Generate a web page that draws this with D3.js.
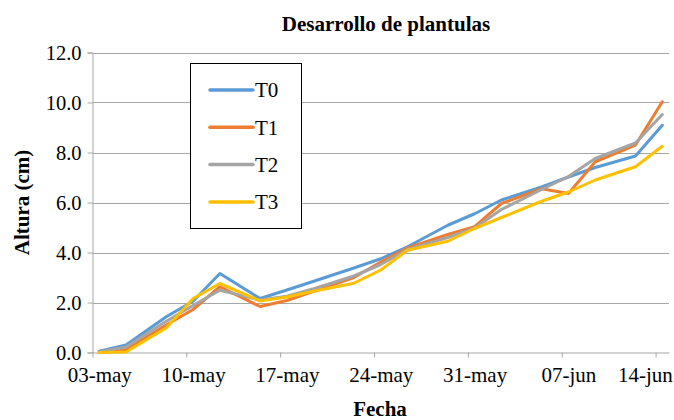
<!DOCTYPE html>
<html>
<head>
<meta charset="utf-8">
<script src="https://cdn.jsdelivr.net/npm/d3@7"></script>
<style>
  html, body { margin: 0; padding: 0; background: #fff; }
  svg, svg text { font-family: "Liberation Serif", "Times New Roman", Times, serif !important; }
</style>
</head>
<body>
<svg id="chart" width="674" height="420"></svg>
<script>
// Measurement dates (day-month of the trial)
const fechas = [
  "03-05", "05-05", "08-05", "10-05", "12-05", "15-05", "17-05", "19-05",
  "22-05", "24-05", "26-05", "29-05", "31-05", "02-06", "05-06", "07-06",
  "09-06", "12-06", "14-06"
];

// Seedling height (cm) per treatment
const T0 = [0.05, 0.30, 1.43, 2.05, 3.16, 2.16, 2.50, 2.85, 3.38, 3.75, 4.23, 5.09, 5.55, 6.10, 6.62, 7.02, 7.40, 7.86, 9.09];
const T1 = [0.02, 0.12, 1.10, 1.72, 2.63, 1.84, 2.08, 2.45, 3.00, 3.62, 4.18, 4.72, 5.03, 5.96, 6.55, 6.36, 7.63, 8.30, 10.03];
const T2 = [0.03, 0.22, 1.25, 1.88, 2.49, 2.10, 2.25, 2.55, 3.06, 3.52, 4.12, 4.60, 4.98, 5.72, 6.52, 7.04, 7.76, 8.38, 9.52];
const T3 = [0.00, 0.02, 0.98, 2.16, 2.76, 2.06, 2.22, 2.45, 2.77, 3.30, 4.09, 4.45, 4.96, 5.40, 6.05, 6.42, 6.90, 7.43, 8.25];

const seriesNames = ["T0", "T1", "T2", "T3"];
const seriesValues = [T0, T1, T2, T3];
const seriesColors = ["#5B9BD5", "#ED7D31", "#A5A5A5", "#FFC000"];

// Axis ticks
const xTickDates = ["03-05", "10-05", "17-05", "24-05", "31-05", "07-06", "14-06"];
const xDomain = ["03-05", "15-06"];
const yTicks = [0, 2, 4, 6, 8, 10, 12];

const title = "Desarrollo de plantulas";
const xTitle = "Fecha";
const yTitle = "Altura (cm)";

const FONT = "'Liberation Serif', 'Times New Roman', Times, serif";
const YEAR = 2016;
const parseDM = s => { const [d, m] = s.split("-").map(Number); return new Date(YEAR, m - 1, d); };
const midDay = dt => d3.timeHour.offset(dt, 12);

const es = d3.timeFormatLocale({
  dateTime: "%A, %e de %B de %Y, %X", date: "%d/%m/%Y", time: "%H:%M:%S",
  periods: ["AM", "PM"],
  days: ["domingo","lunes","martes","miércoles","jueves","viernes","sábado"],
  shortDays: ["dom","lun","mar","mié","jue","vie","sáb"],
  months: ["enero","febrero","marzo","abril","mayo","junio","julio","agosto","septiembre","octubre","noviembre","diciembre"],
  shortMonths: ["ene","feb","mar","abr","may","jun","jul","ago","sep","oct","nov","dic"]
});
const fmt = es.format("%d-%b");

const W = 674;
const svg = d3.select("#chart");
const plot = { left: 92.5, right: 669, top: 52.5, bottom: 352.5 };

const x = d3.scaleTime()
  .domain(xDomain.map(parseDM))
  .range([plot.left, plot.right]);
const y = d3.scaleLinear()
  .domain([0, 12])
  .range([plot.bottom, plot.top]);

const gridColor = "#a6a6a6";

// Horizontal gridlines
svg.append("g")
  .selectAll("line")
  .data(yTicks.filter(v => v > 0))
  .join("line")
  .attr("x1", plot.left).attr("x2", plot.right)
  .attr("y1", d => Math.round(y(d)) + 0.5).attr("y2", d => Math.round(y(d)) + 0.5)
  .attr("stroke", gridColor).attr("stroke-width", 1);

// Y axis
const yAxis = svg.append("g")
  .attr("transform", `translate(${plot.left},0)`)
  .call(d3.axisLeft(y).tickValues(yTicks).tickFormat(d3.format(".1f")).tickSize(5).tickPadding(6));
yAxis.attr("font-family", null);
yAxis.select(".domain").attr("stroke", gridColor);
yAxis.selectAll(".tick line").attr("stroke", gridColor);
yAxis.selectAll(".tick text")
  .style("font-family", FONT).style("font-size", "20.5px").attr("fill", "#000")
  .attr("dy", "0.35em");

// X axis: tick marks at day boundaries, labels centred on the day
const xAxis = svg.append("g")
  .attr("transform", `translate(0,${plot.bottom})`)
  .call(d3.axisBottom(x).tickValues(xTickDates.map(parseDM)).tickFormat(fmt).tickSize(5).tickSizeOuter(0).tickPadding(10));
xAxis.attr("font-family", null);
xAxis.select(".domain").attr("stroke", gridColor);
xAxis.selectAll(".tick line").attr("stroke", gridColor);
const dayW = x(parseDM("04-05")) - x(parseDM("03-05"));
xAxis.selectAll(".tick text")
  .style("font-family", FONT).style("font-size", "21px").attr("fill", "#000")
  .attr("x", dayW / 2)
  .each(function () {
    // keep the last label inside the page
    const b = this.getBBox();
    const tr = this.parentNode.getAttribute("transform");
    const tx = +/translate\(([-\d.]+)/.exec(tr)[1];
    const right = tx + dayW / 2 + b.width / 2;
    if (right > W - 1) d3.select(this).attr("x", dayW / 2 - (right - (W - 1)));
  });

// Series lines: each point sits in the middle of its day
const line = d3.line()
  .x((d, i) => x(midDay(parseDM(fechas[i]))))
  .y(d => y(d));

svg.append("g")
  .selectAll("path")
  .data(seriesValues)
  .join("path")
  .attr("d", d => line(d))
  .attr("fill", "none")
  .attr("stroke", (d, i) => seriesColors[i])
  .attr("stroke-width", 3)
  .attr("stroke-linejoin", "round")
  .attr("stroke-linecap", "round");

// Legend
const legend = svg.append("g");
legend.append("rect")
  .attr("x", 190.5).attr("y", 63.5).attr("width", 111).attr("height", 165)
  .attr("fill", "#fff").attr("stroke", "#000").attr("stroke-width", 1);
const items = legend.selectAll("g.item")
  .data(seriesNames)
  .join("g")
  .attr("class", "item")
  .attr("transform", (d, i) => `translate(0,${90 + i * 37.3})`);
items.append("line")
  .attr("x1", 210).attr("x2", 253).attr("y1", 0).attr("y2", 0)
  .attr("stroke", (d, i) => seriesColors[i])
  .attr("stroke-width", 3.5).attr("stroke-linecap", "round");
items.append("text")
  .attr("x", 255).attr("y", 0).attr("dy", "0.35em")
  .style("font-family", FONT).style("font-size", "21px").attr("fill", "#000")
  .text(d => d);

// Titles
svg.append("text")
  .attr("x", 386).attr("y", 31)
  .attr("text-anchor", "middle").attr("font-weight", "bold")
  .style("font-family", FONT).style("font-size", "21px")
  .text(title);
svg.append("text")
  .attr("x", 380).attr("y", 416)
  .attr("text-anchor", "middle").attr("font-weight", "bold")
  .style("font-family", FONT).style("font-size", "21px")
  .text(xTitle);
svg.append("text")
  .attr("transform", `translate(29,${(plot.top + plot.bottom) / 2}) rotate(-90)`)
  .attr("text-anchor", "middle").attr("font-weight", "bold")
  .style("font-family", FONT).style("font-size", "21px")
  .text(yTitle);
</script>
</body>
</html>
